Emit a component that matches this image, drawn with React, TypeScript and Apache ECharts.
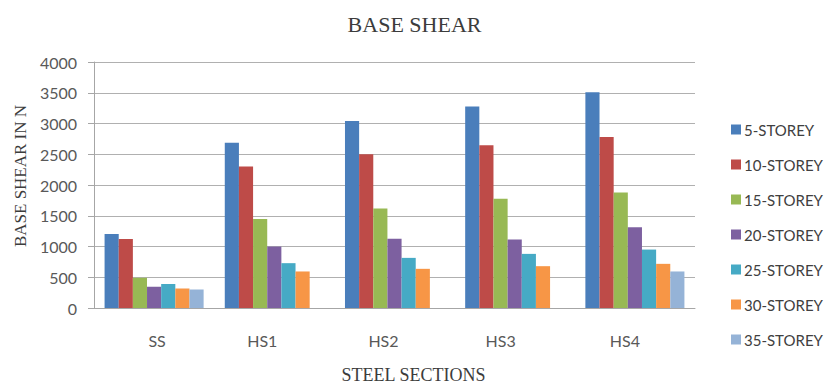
import React, { useEffect, useRef } from "react";
import * as echarts from "echarts";

// Steel sections along the x axis
const sections = ["SS", "HS1", "HS2", "HS3", "HS4"];

// Base shear (N) per storey count
const storey5 = [1204, 2688, 3039, 3277, 3509];
const storey10 = [1123, 2300, 2499, 2645, 2780];
const storey15 = [491, 1447, 1619, 1776, 1879];
const storey20 = [345, 999, 1128, 1112, 1312];
const storey25 = [389, 729, 815, 880, 950];
const storey30 = [318, 594, 637, 680, 718];
const storey35 = [302, null, null, null, 594];

const seriesNames = [
  "5-STOREY",
  "10-STOREY",
  "15-STOREY",
  "20-STOREY",
  "25-STOREY",
  "30-STOREY",
  "35-STOREY",
];
const seriesValues = [storey5, storey10, storey15, storey20, storey25, storey30, storey35];
const seriesColors = ["#4A7EBB", "#BE4B48", "#98B954", "#7D60A0", "#46AAC5", "#F79646", "#95B3D7"];

// small per-label nudges of the category text
const labelShift = [3, -12, -11, -14, -10];

const sans = "Lato, 'Open Sans', sans-serif";
const serif = "'Liberation Serif', 'DejaVu Serif', serif";

export default function App() {
  const ref = useRef<HTMLDivElement>(null);

  useEffect(() => {
    if (!ref.current) return;
    const chart = echarts.init(ref.current, undefined, { renderer: "svg" });

    chart.setOption({
      animation: false,
      backgroundColor: "#ffffff",
      title: {
        text: "BASE SHEAR",
        left: "center",
        top: 8,
        textStyle: { fontFamily: serif, fontSize: 22, fontWeight: "normal", color: "#3c3c3c" },
      },
      legend: {
        orient: "vertical",
        left: 726,
        top: 117,
        itemWidth: 10,
        itemHeight: 10,
        itemGap: 20,
        icon: "rect",
        textStyle: { fontFamily: sans, fontSize: 15, color: "#404040", padding: [0, 0, 0, -2] },
        data: seriesNames,
      },
      grid: { left: 94, right: 134, top: 62, bottom: 80 },
      xAxis: {
        type: "category",
        data: sections.map((s, i) => ({
          value: s,
          textStyle: {
            padding: labelShift[i] < 0 ? [0, -2 * labelShift[i], 0, 0] : [0, 0, 0, 2 * labelShift[i]],
          },
        })),
        name: "STEEL SECTIONS",
        nameLocation: "middle",
        nameGap: 58,
        nameTextStyle: {
          fontFamily: serif,
          fontSize: 18,
          color: "#3c3c3c",
          padding: [0, 0, 0, 38],
        },
        axisLine: { lineStyle: { color: "#a6a6a6", width: 1 } },
        axisTick: { show: false },
        axisLabel: { fontFamily: sans, fontSize: 16, color: "#595959", margin: 24 },
      },
      yAxis: {
        type: "value",
        min: 0,
        max: 4000,
        interval: 500,
        name: "BASE SHEAR IN N",
        nameLocation: "middle",
        nameGap: 64,
        nameRotate: 90,
        nameTextStyle: {
          fontFamily: serif,
          fontSize: 17,
          color: "#3c3c3c",
          padding: [0, 0, 0, 18],
        },
        axisLine: { show: true, lineStyle: { color: "#a6a6a6", width: 1 } },
        axisTick: { show: true, length: 6, lineStyle: { color: "#a6a6a6" } },
        axisLabel: {
          fontFamily: sans,
          fontSize: 16,
          color: "#595959",
          margin: 17,
          formatter: (v: number) => String(v),
        },
        splitLine: { lineStyle: { color: "#b0b0b0", width: 1 } },
      },
      series: seriesNames.map((name, i) => ({
        name,
        type: "bar",
        data: seriesValues[i],
        barGap: "0%",
        barCategoryGap: "17.6%",
        itemStyle: { color: seriesColors[i] },
      })),
    });

    return () => chart.dispose();
  }, []);

  return (
    <div
      ref={ref}
      style={{ position: "fixed", left: 0, top: 0, width: 829, height: 389 }}
    />
  );
}
